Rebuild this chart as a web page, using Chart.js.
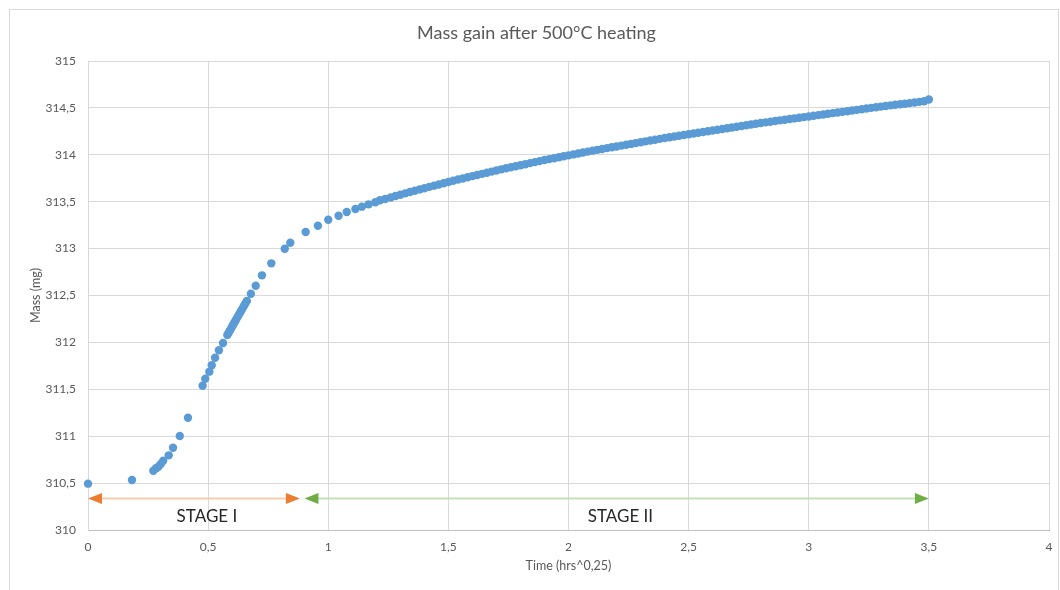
<!DOCTYPE html>
<html>
<head>
<meta charset="utf-8">
<script src="https://cdn.jsdelivr.net/npm/chart.js@4/dist/chart.umd.min.js"></script>
<style>
  html, body { margin: 0; padding: 0; background: #ffffff; }
  #wrap { position: absolute; left: 0; top: 0; width: 1060px; height: 590px; }
</style>
</head>
<body>
<div id="wrap"><canvas id="c" width="1060" height="590"></canvas></div>
<script>
// ---- data ----
const chartTitle = 'Mass gain after 500°C heating';
const xAxisTitle = 'Time (hrs^0,25)';
const yAxisTitle = 'Mass (mg)';
const xTickLabels = ['0', '0,5', '1', '1,5', '2', '2,5', '3', '3,5', '4'];
const yTickLabels = ['310', '310,5', '311', '311,5', '312', '312,5', '313', '313,5', '314', '314,5', '315'];

const timeEarly = [0, 0.183, 0.272, 0.283, 0.293, 0.303, 0.313, 0.336, 0.354, 0.382, 0.416,
  0.477, 0.488, 0.505, 0.515, 0.529, 0.545, 0.562, 0.580,
  0.585, 0.590, 0.595, 0.600, 0.605, 0.610, 0.615, 0.620, 0.625, 0.630, 0.635, 0.640, 0.645, 0.650, 0.655, 0.661,
  0.678, 0.698, 0.724, 0.763, 0.819, 0.842, 0.906, 0.957, 1.000, 1.043, 1.077, 1.113, 1.140, 1.168, 1.196, 1.215, 1.237];
const massEarly = [310.494, 310.533, 310.632, 310.658, 310.675, 310.704, 310.739, 310.796, 310.877, 311.002, 311.197,
  311.538, 311.613, 311.688, 311.756, 311.837, 311.916, 311.994, 312.079,
  312.101, 312.124, 312.146, 312.169, 312.191, 312.214, 312.236, 312.259, 312.281, 312.304, 312.326, 312.349, 312.371, 312.394, 312.416, 312.441,
  312.519, 312.604, 312.715, 312.843, 312.999, 313.063, 313.177, 313.244, 313.308, 313.351, 313.390, 313.422, 313.447, 313.472, 313.494, 313.515, 313.529];

const timeLate = [1.26, 1.28, 1.30, 1.32, 1.34, 1.36, 1.38, 1.40, 1.42, 1.44, 1.46, 1.48, 1.50,
  1.52, 1.54, 1.56, 1.58, 1.60, 1.62, 1.64, 1.66, 1.68, 1.70, 1.72, 1.74, 1.76, 1.78, 1.80,
  1.82, 1.84, 1.86, 1.88, 1.90, 1.92, 1.94, 1.96, 1.98, 2.00, 2.02, 2.04, 2.06, 2.08, 2.10,
  2.12, 2.14, 2.16, 2.18, 2.20, 2.22, 2.24, 2.26, 2.28, 2.30, 2.32, 2.34, 2.36, 2.38, 2.40,
  2.42, 2.44, 2.46, 2.48, 2.50, 2.52, 2.54, 2.56, 2.58, 2.60, 2.62, 2.64, 2.66, 2.68, 2.70,
  2.72, 2.74, 2.76, 2.78, 2.80, 2.82, 2.84, 2.86, 2.88, 2.90, 2.92, 2.94, 2.96, 2.98, 3.00,
  3.02, 3.04, 3.06, 3.08, 3.10, 3.12, 3.14, 3.16, 3.18, 3.20, 3.22, 3.24, 3.26, 3.28, 3.30,
  3.32, 3.34, 3.36, 3.38, 3.40, 3.42, 3.44, 3.46, 3.48, 3.50];
const massLate = [313.545, 313.560, 313.574, 313.589, 313.603, 313.617, 313.631, 313.644, 313.658, 313.671, 313.684, 313.697, 313.710,
  313.723, 313.736, 313.748, 313.761, 313.773, 313.785, 313.797, 313.809, 313.821, 313.833, 313.845, 313.856, 313.867, 313.878, 313.889,
  313.900, 313.911, 313.922, 313.933, 313.944, 313.954, 313.964, 313.974, 313.984, 313.994, 314.004, 314.014, 314.024, 314.034, 314.044,
  314.053, 314.062, 314.071, 314.080, 314.089, 314.098, 314.107, 314.116, 314.125, 314.134, 314.143, 314.152, 314.161, 314.170, 314.179,
  314.187, 314.195, 314.203, 314.211, 314.219, 314.227, 314.235, 314.243, 314.251, 314.259, 314.267, 314.275, 314.283, 314.291, 314.299,
  314.307, 314.315, 314.323, 314.331, 314.339, 314.346, 314.353, 314.360, 314.367, 314.374, 314.381, 314.388, 314.395, 314.402, 314.409,
  314.416, 314.423, 314.430, 314.437, 314.444, 314.451, 314.458, 314.465, 314.472, 314.479, 314.486, 314.493, 314.500, 314.507, 314.514,
  314.521, 314.527, 314.533, 314.539, 314.545, 314.551, 314.557, 314.564, 314.571, 314.590];

// stage annotations (in data units)
const stageLabels = ['STAGE I', 'STAGE II'];
const stageStart = [0, 0.901];
const stageEnd = [0.882, 3.5];
const stageArrowMass = 310.336;
const stageTextTime = [0.495, 2.216];
const stageTextMass = 310.14;
const stageLineColors = ['#f8cbad', '#c5e0b4'];
const stageHeadColors = ['#ed7d31', '#70ad47'];

// ---- build ----
const points = [];
timeEarly.forEach((t, i) => points.push({ x: t, y: massEarly[i] }));
timeLate.forEach((t, i) => points.push({ x: t, y: massLate[i] }));

Chart.defaults.font.family = 'Lato, "Open Sans", sans-serif';
Chart.defaults.color = '#595959';

const framePlugin = {
  id: 'frame',
  beforeDraw(chart) {
    const ctx = chart.ctx;
    ctx.save();
    ctx.fillStyle = '#ffffff';
    ctx.fillRect(0, 0, chart.width, chart.height);
    ctx.strokeStyle = '#d9d9d9';
    ctx.lineWidth = 1;
    ctx.strokeRect(9.5, 9.5, 1049, 640);
    ctx.restore();
  }
};

function arrowHead(ctx, x, y, dir, color) {
  const len = 14, half = 5.5;
  ctx.fillStyle = color;
  ctx.beginPath();
  ctx.moveTo(x, y);
  ctx.lineTo(x - dir * len, y - half);
  ctx.lineTo(x - dir * len, y + half);
  ctx.closePath();
  ctx.fill();
}

const stagePlugin = {
  id: 'stages',
  afterDatasetsDraw(chart) {
    const ctx = chart.ctx;
    const xs = chart.scales.x, ys = chart.scales.y;
    const yArrow = ys.getPixelForValue(stageArrowMass);
    ctx.save();
    for (let i = 0; i < stageLabels.length; i++) {
      const x0 = xs.getPixelForValue(stageStart[i]);
      const x1 = xs.getPixelForValue(stageEnd[i]);
      ctx.strokeStyle = stageLineColors[i];
      ctx.lineWidth = 2;
      ctx.beginPath();
      ctx.moveTo(x0 + 8, yArrow);
      ctx.lineTo(x1 - 8, yArrow);
      ctx.stroke();
      arrowHead(ctx, x0, yArrow, -1, stageHeadColors[i]);
      arrowHead(ctx, x1, yArrow, 1, stageHeadColors[i]);
      ctx.fillStyle = '#262626';
      ctx.font = '17px Lato, "Open Sans", sans-serif';
      ctx.textAlign = 'center';
      ctx.textBaseline = 'middle';
      ctx.fillText(stageLabels[i], xs.getPixelForValue(stageTextTime[i]), ys.getPixelForValue(stageTextMass));
    }
    ctx.restore();
  }
};

new Chart(document.getElementById('c'), {
  type: 'scatter',
  data: {
    datasets: [{
      label: 'Mass',
      data: points,
      backgroundColor: '#5b9bd5',
      borderColor: '#5b9bd5',
      borderWidth: 0,
      pointRadius: 4.2,
      pointHoverRadius: 4.2,
      clip: false
    }]
  },
  options: {
    responsive: false,
    animation: false,
    devicePixelRatio: 1,
    layout: { padding: { left: 24, right: 11, top: 0, bottom: 0 } },
    plugins: {
      legend: { display: false },
      tooltip: { enabled: false },
      title: {
        display: true,
        text: chartTitle,
        color: '#595959',
        font: { size: 18, weight: 'normal' },
        padding: { top: 22, bottom: 17.4 }
      }
    },
    scales: {
      x: {
        type: 'linear',
        min: 0, max: 4,
        afterFit(s) { s.height = 60; s.paddingRight = 0; s.paddingLeft = 0; },
        ticks: {
          stepSize: 0.5,
          padding: 10,
          color: '#595959',
          font: { size: 12 },
          maxRotation: 0,
          callback: (v, i) => xTickLabels[i]
        },
        grid: { color: '#d9d9d9', lineWidth: 1, drawTicks: false },
        border: { color: '#bfbfbf', width: 1 },
        title: {
          display: true,
          text: xAxisTitle,
          color: '#595959',
          font: { size: 12.5 },
          padding: { top: 0, bottom: 16.5 }
        }
      },
      y: {
        type: 'linear',
        min: 310, max: 315,
        afterFit(s) { s.width = 64; },
        ticks: {
          stepSize: 0.5,
          padding: 12,
          color: '#595959',
          font: { size: 12 },
          callback: (v, i) => yTickLabels[i]
        },
        grid: { color: '#d9d9d9', lineWidth: 1, drawTicks: false },
        border: { color: '#d9d9d9', width: 1 },
        title: {
          display: true,
          text: yAxisTitle,
          color: '#595959',
          font: { size: 12.5 },
          padding: { top: 4.5, bottom: 0 }
        }
      }
    }
  },
  plugins: [framePlugin, stagePlugin]
});
</script>
</body>
</html>
